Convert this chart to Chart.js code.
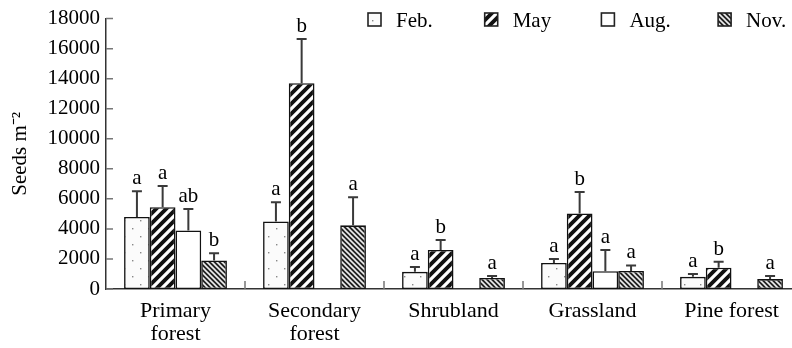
<!DOCTYPE html>
<html>
<head>
<meta charset="utf-8">
<script src="https://cdn.jsdelivr.net/npm/chart.js@4.4.1/dist/chart.umd.min.js"></script>
<style>
  html, body { margin: 0; padding: 0; background: #fff; overflow: hidden; }
  #wrap { width: 792px; height: 348px; overflow: hidden; }
</style>
</head>
<body>
<div id="wrap"><canvas id="chart" width="810" height="348"></canvas></div>
<script>
// --- data ---
const habitats = [["Primary", "forest"], ["Secondary", "forest"], "Shrubland", "Grassland", "Pine forest"];
const seasons = ["Feb.", "May", "Aug.", "Nov."];

// mean seed density (seeds m-2)
const febMean = [4800, 4500, 1140, 1730, 810];
const mayMean = [5450, 13700, 2600, 5030, 1420];
const augMean = [3900, null, null, 1180, null];
const novMean = [1900, 4240, 740, 1200, 660];

// upper error (SE)
const febErr = [1700, 1270, 320, 260, 190];
const mayErr = [1410, 2950, 660, 1420, 400];
const augErr = [1430, null, null, 1420, null];
const novErr = [480, 1860, 130, 370, 210];

// significance letters
const febSig = ["a", "a", "a", "a", "a"];
const maySig = ["a", "b", "b", "b", "b"];
const augSig = ["ab", null, null, "a", null];
const novSig = ["b", "a", "a", "a", "a"];

const yTicks = { min: 0, max: 18000, step: 2000 };

const FONT = '"Liberation Serif", "Times New Roman", serif';
const FS = 21;

// --- fill patterns ---
function makePattern(size, draw) {
  const c = document.createElement("canvas");
  c.width = size; c.height = size;
  const ctx = c.getContext("2d");
  draw(ctx, size);
  return document.createElement("canvas").getContext("2d").createPattern(c, "repeat");
}

const dots = makePattern(16, (ctx, s) => {
  ctx.fillStyle = "#fbfbfb";
  ctx.fillRect(0, 0, s, s);
  ctx.fillStyle = "#888";
  ctx.fillRect(4, 4, 1.4, 1.4);
  ctx.fillRect(12, 12, 1.4, 1.4);
});

const wideStripes = makePattern(10, (ctx, s) => {
  ctx.fillStyle = "#111";
  ctx.fillRect(0, 0, s, s);
  ctx.strokeStyle = "#fff";
  ctx.lineWidth = 3.2;
  ctx.beginPath();
  ctx.moveTo(0, s); ctx.lineTo(s, 0);
  ctx.moveTo(-2, 2); ctx.lineTo(2, -2);
  ctx.moveTo(s - 2, s + 2); ctx.lineTo(s + 2, s - 2);
  ctx.stroke();
});

const fineStripes = makePattern(5, (ctx, s) => {
  ctx.fillStyle = "#222";
  ctx.fillRect(0, 0, s, s);
  ctx.strokeStyle = "#eee";
  ctx.lineWidth = 1.6;
  ctx.beginPath();
  ctx.moveTo(0, 0); ctx.lineTo(s, s);
  ctx.moveTo(-2, s - 2); ctx.lineTo(2, s + 2);
  ctx.moveTo(s - 2, -2); ctx.lineTo(s + 2, 2);
  ctx.stroke();
});

const fills = [dots, wideStripes, "#fff", fineStripes];
const means = [febMean, mayMean, augMean, novMean];
const errs = [febErr, mayErr, augErr, novErr];
const sigs = [febSig, maySig, augSig, novSig];

const datasets = seasons.map((s, i) => ({
  label: s,
  data: means[i],
  errors: errs[i],
  letters: sigs[i],
  backgroundColor: fills[i],
  borderColor: "#111",
  borderWidth: 1.6,
  borderSkipped: false
}));

// error bars, letters, inner tick marks
const errorBars = {
  id: "errorBars",
  afterDatasetsDraw(chart) {
    const ctx = chart.ctx;
    const y = chart.scales.y;
    ctx.save();
    chart.data.datasets.forEach((ds, i) => {
      const meta = chart.getDatasetMeta(i);
      meta.data.forEach((bar, j) => {
        const v = ds.data[j];
        const e = ds.errors[j];
        if (v == null || e == null) return;
        const top = y.getPixelForValue(v + e);
        ctx.strokeStyle = "#3a3a3a";
        ctx.lineWidth = 2;
        ctx.beginPath();
        ctx.moveTo(bar.x, bar.y);
        ctx.lineTo(bar.x, top);
        ctx.moveTo(bar.x - 5, top);
        ctx.lineTo(bar.x + 5, top);
        ctx.stroke();
        const t = ds.letters[j];
        if (t) {
          ctx.fillStyle = "#000";
          ctx.font = FS + "px " + FONT;
          ctx.textAlign = "center";
          ctx.textBaseline = "alphabetic";
          ctx.fillText(t, bar.x, top - 7);
        }
      });
    });
    ctx.restore();
  },
  afterDraw(chart) {
    const ctx = chart.ctx;
    const { left, bottom } = chart.chartArea;
    const x = chart.scales.x, y = chart.scales.y;
    ctx.save();
    ctx.strokeStyle = "#777";
    ctx.lineWidth = 1.5;
    ctx.beginPath();
    y.ticks.forEach(t => {
      const py = y.getPixelForValue(t.value);
      ctx.moveTo(left, py);
      ctx.lineTo(left + 7, py);
    });
    const half = (x.getPixelForValue(1) - x.getPixelForValue(0)) / 2;
    for (let i = 1; i < habitats.length; i++) {
      const px = x.getPixelForValue(i) - half;
      ctx.moveTo(px, bottom);
      ctx.lineTo(px, bottom - 8);
    }
    ctx.stroke();
    ctx.restore();
  }
};

// legend drawn inside the plot, top right
const insideLegend = {
  id: "insideLegend",
  afterDraw(chart) {
    const ctx = chart.ctx;
    const x0 = chart.chartArea.left + 262;
    const step = 116.7;
    ctx.save();
    ctx.font = FS + "px " + FONT;
    ctx.textBaseline = "middle";
    ctx.textAlign = "left";
    chart.data.datasets.forEach((ds, i) => {
      const bx = x0 + i * step;
      ctx.fillStyle = ds.backgroundColor;
      ctx.fillRect(bx, 13, 13, 13);
      ctx.strokeStyle = "#222";
      ctx.lineWidth = 1.6;
      ctx.strokeRect(bx, 13, 13, 13);
      ctx.fillStyle = "#000";
      ctx.fillText(ds.label, bx + 28, 21);
    });
    ctx.restore();
  }
};

new Chart(document.getElementById("chart"), {
  type: "bar",
  data: { labels: habitats, datasets },
  plugins: [errorBars, insideLegend],
  options: {
    responsive: false,
    animation: false,
    layout: { padding: { top: 14, right: 9, left: 0, bottom: 0 } },
    datasets: { bar: { categoryPercentage: 0.74, barPercentage: 1 } },
    plugins: {
      legend: { display: false },
      tooltip: { enabled: false }
    },
    scales: {
      x: {
        grid: { display: false, drawTicks: false },
        border: { display: true, color: "#333", width: 1.5 },
        ticks: {
          color: "#000",
          font: { family: FONT, size: 22, lineHeight: 1.05 },
          padding: 11,
          maxRotation: 0,
          autoSkip: false
        },
        afterFit(s) { s.height = 59; }
      },
      y: {
        min: yTicks.min,
        max: yTicks.max,
        grid: { display: false, drawTicks: false },
        border: { display: true, color: "#333", width: 1.5 },
        ticks: {
          stepSize: yTicks.step,
          color: "#000",
          font: { family: FONT, size: FS },
          padding: 6,
          callback: v => String(v)
        },
        title: {
          display: true,
          text: "Seeds m\u207B\u00B2",
          color: "#000",
          font: { family: FONT, size: FS },
          padding: { top: 8, bottom: 0 }
        },
        afterFit(s) { s.width = 106; }
      }
    }
  }
});
</script>
</body>
</html>
